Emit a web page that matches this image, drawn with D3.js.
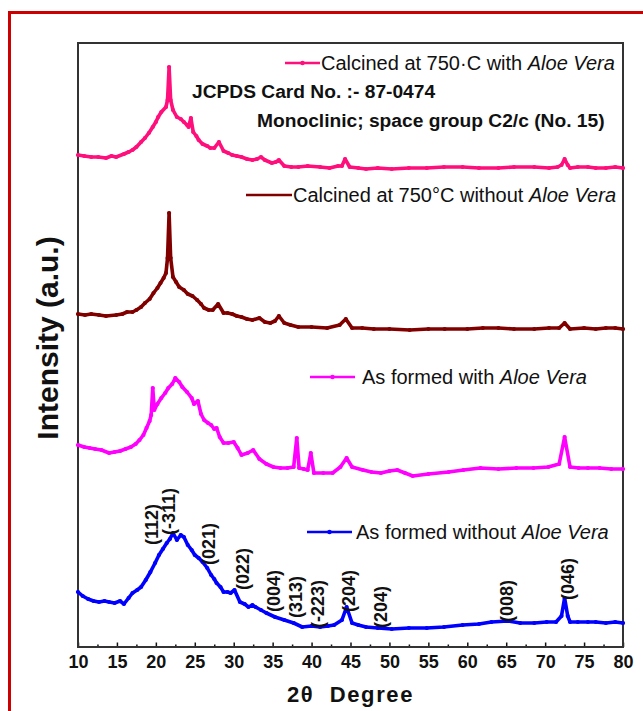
<!DOCTYPE html>
<html>
<head>
<meta charset="utf-8">
<script src="https://cdn.jsdelivr.net/npm/d3@7"></script>
<style>
  body { margin: 0; background: #fff; }
  svg { display: block; font-family: Arial, "Liberation Sans", sans-serif; }
</style>
</head>
<body>
<div id="chart"></div>
<script>
const width = 643;
const height = 711;
const margin = { top: 43, right: 20, bottom: 64, left: 78 };

// 2theta / intensity (a.u., stacked)
const calcWithX = [10, 10.8, 11.7, 12.6, 13.6, 14.3, 14.9, 15.9, 16.5, 17, 17.5, 18.1, 18.6, 19.1, 19.6, 20, 20.3, 20.7, 21.3, 21.5, 21.7, 21.9, 22.2, 22.7, 23.2, 23.6, 24, 24.2, 24.5, 24.8, 25.2, 25.5, 26, 26.6, 27, 27.5, 28.1, 28.7, 29.3, 29.8, 30.4, 31, 31.7, 32.4, 33, 33.5, 34, 34.9, 35.4, 35.8, 36.5, 37.4, 38.3, 39.5, 41.1, 42.3, 43.4, 43.9, 44.3, 44.9, 46, 47, 48.5, 50.3, 52.5, 54.8, 57, 59.4, 61.5, 64, 66, 68.6, 70.5, 71.6, 72.1, 72.5, 72.9, 73.2, 74.2, 75.5, 76.5, 77.8, 79, 80];
const calcWithY = [492, 491, 490, 490, 489, 491, 490, 493, 495, 497, 500, 505, 509, 514, 520, 525, 530, 535, 540, 547, 580, 547, 537, 530, 528, 525, 522, 520, 529, 515, 511, 507, 503, 501, 499, 499, 505, 496, 494, 492, 491, 490, 488, 487, 488, 490, 487, 484, 485, 487, 481, 480, 480, 481, 480, 479, 481, 481, 488, 480, 479, 478, 479, 478, 479, 479, 480, 480, 479, 479, 480, 480, 479, 480, 482, 488, 482, 479, 480, 480, 479, 479, 480, 479];

const calcWithoutX = [10, 10.9, 11.7, 12.7, 13.6, 14.9, 15.7, 16.3, 17, 17.5, 18.1, 18.6, 19.2, 19.7, 20.2, 20.6, 21, 21.3, 21.5, 21.7, 21.9, 22.2, 22.6, 23, 23.6, 24.1, 24.7, 25.3, 25.8, 26.2, 26.8, 27.3, 28, 28.7, 29.2, 29.8, 30.4, 31, 31.7, 32.4, 33.3, 34, 34.7, 35.3, 35.8, 36.5, 37.3, 38.3, 40, 42, 43.6, 44.4, 45.2, 46.5, 48, 50, 52.6, 55, 57.1, 60, 62, 64, 66, 68.6, 70.5, 71.8, 72.5, 73.2, 75, 76.5, 77.8, 79, 80];
const calcWithoutY = [333, 332, 333, 332, 331, 332, 333, 335, 335, 337, 340, 344, 348, 354, 359, 364, 369, 374, 389, 434, 389, 370, 365, 360, 357, 353, 351, 347, 343, 339, 337, 337, 343, 334, 334, 333, 331, 330, 328, 327, 329, 325, 324, 326, 331, 324, 322, 320, 320, 319, 322, 328, 319, 319, 318, 318, 317, 318, 318, 318, 319, 319, 318, 318, 319, 319, 324, 318, 319, 318, 319, 319, 318];

const formedWithX = [10, 10.8, 11.5, 12.2, 13, 14, 14.7, 15.4, 16.1, 16.8, 17.4, 17.9, 18.4, 18.8, 19.2, 19.4, 19.6, 19.8, 20.2, 20.7, 21.2, 21.6, 22.1, 22.5, 23, 23.4, 24, 24.6, 24.9, 25.4, 25.8, 26.2, 26.7, 27.1, 27.5, 27.8, 28.2, 28.7, 29.3, 30, 30.5, 31, 31.8, 32.5, 33.3, 34.2, 35.1, 36, 36.9, 37.7, 38.1, 38.4, 39, 39.5, 39.9, 40.3, 41.5, 42.7, 43.7, 44.5, 45.2, 46.6, 47.7, 48.9, 50, 51, 52, 53, 55, 57.6, 59.5, 61.7, 64, 66.3, 68.5, 70.4, 71.8, 72.5, 73.2, 74.3, 75.5, 77, 78.5, 80];
const formedWithY = [202, 200, 199, 198, 197, 194, 195, 196, 198, 200, 203, 207, 212, 219, 226, 232, 259, 237, 243, 249, 254, 259, 263, 269, 265, 260, 255, 249, 243, 246, 233, 227, 224, 222, 218, 219, 210, 204, 204, 205, 199, 192, 194, 197, 188, 183, 180, 179, 179, 180, 209, 179, 178, 177, 194, 174, 174, 174, 180, 189, 180, 177, 175, 174, 176, 177, 174, 171, 173, 175, 177, 179, 178, 179, 179, 180, 183, 210, 180, 179, 179, 179, 178, 178];

const formedWithoutX = [10, 10.6, 11.3, 12, 12.7, 13.4, 14, 14.7, 15.4, 15.9, 16.5, 17, 17.6, 18.1, 18.7, 19.3, 19.9, 20.4, 20.9, 21.4, 21.8, 22.2, 22.7, 23.2, 23.6, 24.1, 24.6, 25, 25.5, 26, 26.6, 27.1, 27.5, 27.8, 28.3, 28.7, 29.2, 29.6, 30.1, 30.8, 31.4, 31.9, 32.4, 32.8, 33.5, 34.2, 35.3, 36.5, 37.7, 38.8, 40, 41.1, 42.1, 42.9, 43.9, 44.5, 45.2, 46, 47, 48.5, 50.3, 52.5, 54.8, 57, 59.4, 61.5, 63.1, 65.2, 66.8, 68.6, 70.2, 71.4, 72.1, 72.5, 72.9, 73.2, 74.2, 75.5, 76.5, 77.8, 79, 80];
const formedWithoutY = [55, 51, 48, 46, 45, 46, 45, 44, 46, 43, 49, 54, 57, 60, 67, 75, 84, 92, 98, 104, 108, 114, 107, 112, 110, 102, 97, 92, 89, 85, 79, 72, 68, 64, 60, 55, 55, 54, 57, 45, 43, 40, 42, 40, 37, 34, 30, 27, 24, 20, 21, 20, 21, 22, 27, 40, 24, 22, 20, 19, 18, 19, 19, 20, 22, 23, 25, 26, 24, 24, 25, 25, 31, 49, 31, 25, 25, 25, 25, 24, 25, 24];

const seriesNames = ["Calcined at 750·C with ", "Calcined at 750°C without ", "As formed with ", "As formed without "];
const seriesColors = ["#ff0f7b", "#800000", "#ff00ff", "#0000ff"];

// miller indices on the bottom pattern
const hklLabels = ["(112)", "(-311)", "(021)", "(022)", "(004)", "(313)", "(-223)", "(204)", "(204)", "(008)", "(046)"];
const hklTheta = [19.4, 21.6, 26.8, 31.1, 35.1, 38.0, 40.8, 44.7, 48.8, 65.0, 72.9];
const hklBase = [102, 112, 82, 57, 35, 29, 19, 35, 19, 25, 47];

const xTicks = [10, 15, 20, 25, 30, 35, 40, 45, 50, 55, 60, 65, 70, 75, 80];

const series = [
  { x: calcWithX, y: calcWithY },
  { x: calcWithoutX, y: calcWithoutY },
  { x: formedWithX, y: formedWithY },
  { x: formedWithoutX, y: formedWithoutY }
];

const svg = d3
  .select("#chart")
  .append("svg")
  .attr("width", width)
  .attr("height", height);

svg.append("rect").attr("width", width).attr("height", height).attr("fill", "#fff");

// red outer frame (runs off the right and bottom edge)
svg
  .append("rect")
  .attr("x", 9.5)
  .attr("y", 12.5)
  .attr("width", 700)
  .attr("height", 800)
  .attr("fill", "none")
  .attr("stroke", "#cc0000")
  .attr("stroke-width", 3);

const xScale = d3
  .scaleLinear()
  .domain([10, 80])
  .range([margin.left, width - margin.right]);

const yScale = d3
  .scaleLinear()
  .domain([0, 604])
  .range([height - margin.bottom, margin.top]);

// minor ticks
svg
  .append("g")
  .attr("transform", `translate(0,${height - margin.bottom})`)
  .call(
    d3.axisBottom(xScale)
      .tickValues(d3.range(12.5, 80, 5))
      .tickSize(-2.5)
      .tickFormat("")
  )
  .call((g) => g.select(".domain").remove())
  .selectAll("line")
  .attr("stroke", "#111")
  .attr("stroke-width", 1.5);

// major ticks + labels
const xAxis = svg
  .append("g")
  .attr("transform", `translate(0,${height - margin.bottom})`)
  .call(
    d3.axisBottom(xScale)
      .tickValues(xTicks)
      .tickSize(-4.5)
      .tickPadding(8)
  );
xAxis.select(".domain").remove();
xAxis.selectAll("line").attr("stroke", "#111").attr("stroke-width", 1.5);
xAxis
  .selectAll("text")
  .attr("fill", "#111")
  .attr("font-family", "Arial, 'Liberation Sans', sans-serif")
  .attr("font-weight", "bold")
  .attr("font-size", "18px");

// plot frame
svg
  .append("rect")
  .attr("x", margin.left)
  .attr("y", margin.top)
  .attr("width", width - margin.right - margin.left)
  .attr("height", height - margin.bottom - margin.top)
  .attr("fill", "none")
  .attr("stroke", "#333")
  .attr("stroke-width", 2);

// patterns
const line = d3
  .line()
  .x((d) => xScale(d[0]))
  .y((d) => yScale(d[1]));

series.forEach((s, i) => {
  const pts = s.x.map((v, j) => [v, s.y[j]]);
  svg
    .append("path")
    .datum(pts)
    .attr("d", line)
    .attr("fill", "none")
    .attr("stroke", seriesColors[i])
    .attr("stroke-width", 3.6)
    .attr("stroke-linejoin", "round")
    .attr("stroke-linecap", "round");
  svg
    .append("g")
    .selectAll("circle")
    .data(pts)
    .enter()
    .append("circle")
    .attr("cx", (d) => xScale(d[0]))
    .attr("cy", (d) => yScale(d[1]))
    .attr("r", 2.1)
    .attr("fill", seriesColors[i]);
});

// legends, one beside each pattern
const legendRows = [
  { y: 63, x1: 285, x2: 320, tx: 321, dot: true },
  { y: 195, x1: 246, x2: 292, tx: 293, dot: false },
  { y: 377, x1: 310, x2: 355, tx: 362, dot: true },
  { y: 532, x1: 307, x2: 352, tx: 356, dot: true }
];

legendRows.forEach((r, i) => {
  const g = svg.append("g");
  g.append("line")
    .attr("x1", r.x1)
    .attr("x2", r.x2)
    .attr("y1", r.y)
    .attr("y2", r.y)
    .attr("stroke", seriesColors[i])
    .attr("stroke-width", 2.4);
  if (r.dot) {
    g.append("circle")
      .attr("cx", (r.x1 + r.x2) / 2)
      .attr("cy", r.y)
      .attr("r", 2.3)
      .attr("fill", seriesColors[i]);
  }
  const t = g
    .append("text")
    .attr("x", r.tx)
    .attr("y", r.y)
    .attr("dy", "0.36em")
    .attr("font-size", "20px")
    .attr("fill", "#111");
  t.append("tspan").attr("xml:space", "preserve").text(seriesNames[i]);
  t.append("tspan").attr("font-style", "italic").text("Aloe Vera");
});

// card info
svg
  .append("text")
  .attr("x", 192)
  .attr("y", 91)
  .attr("dy", "0.36em")
  .attr("font-size", "19.2px")
  .attr("font-weight", "bold")
  .attr("fill", "#111")
  .text("JCPDS Card No. :- 87-0474");

svg
  .append("text")
  .attr("x", 257)
  .attr("y", 120)
  .attr("dy", "0.36em")
  .attr("font-size", "19.2px")
  .attr("font-weight", "bold")
  .attr("fill", "#111")
  .text("Monoclinic; space group C2/c (No. 15)");

// hkl labels
svg
  .selectAll(".hkl")
  .data(hklLabels)
  .enter()
  .append("text")
  .attr("class", "hkl")
  .attr("transform", (d, i) => `translate(${xScale(hklTheta[i])},${yScale(hklBase[i])}) rotate(-90)`)
  .attr("dy", "0.36em")
  .attr("font-size", "18px")
  .attr("font-weight", "bold")
  .attr("fill", "#111")
  .text((d) => d);

// axis titles
svg
  .append("text")
  .attr("x", (margin.left + width - margin.right) / 2)
  .attr("y", 702)
  .attr("text-anchor", "middle")
  .attr("font-size", "22px")
  .attr("font-weight", "bold")
  .attr("letter-spacing", "1.6px")
  .attr("fill", "#111")
  .style("white-space", "pre")
  .text("2θ  Degree");

svg
  .append("text")
  .attr("transform", `translate(47,338) rotate(-90)`)
  .attr("text-anchor", "middle")
  .attr("dy", "0.36em")
  .attr("font-size", "30px")
  .attr("font-weight", "bold")
  .attr("fill", "#111")
  .text("Intensity (a.u.)");
</script>
</body>
</html>
